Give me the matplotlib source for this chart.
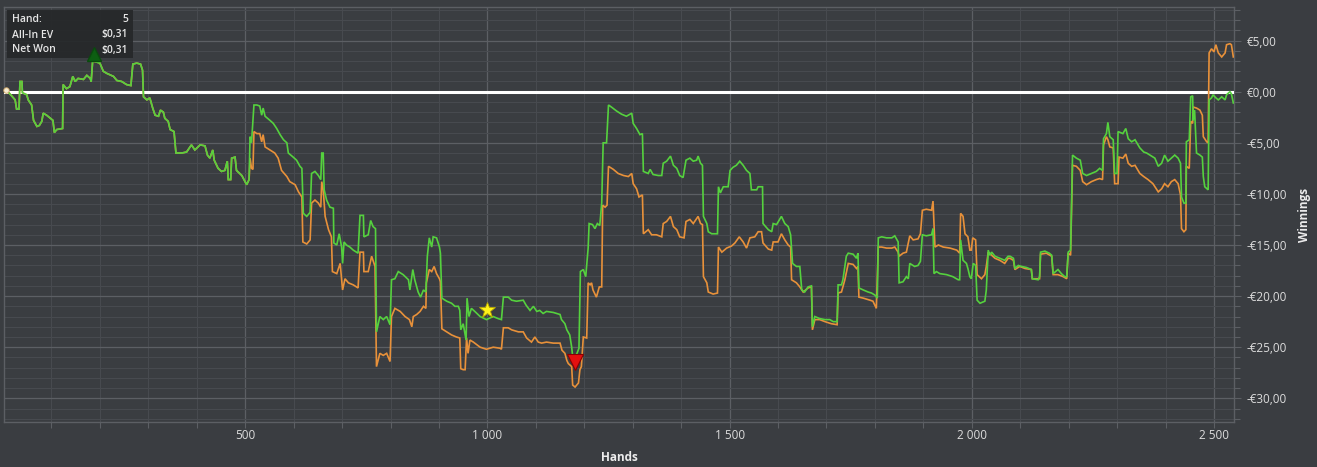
import matplotlib
matplotlib.use("Agg")
import matplotlib.pyplot as plt
from matplotlib.patches import Rectangle
from matplotlib.ticker import MultipleLocator, FuncFormatter

# ---------------- data (hands, € winnings) ----------------
# shared start: both series identical up to ~hand 508
early_hands = [6, 14, 25, 28, 33, 35, 39, 40, 49, 52, 59, 63, 70, 75, 80, 83, 90, 98, 103, 106,
               111, 123, 124, 131, 138, 144, 149, 155, 166, 173, 180, 182, 185, 193, 200, 207,
               214, 228, 235, 245, 255, 264, 268, 276, 284, 288, 290, 297, 303, 309, 314, 321,
               325, 331, 334, 341, 345, 353, 357, 369, 379, 389, 396, 407, 417, 422, 427, 433,
               436, 444, 451, 458, 463, 465, 470, 472, 479, 482, 493, 503, 508]
early_vals = [0.2, -0.2, -0.8, -1.7, -1.7, 1.0, 1.0, -0.1, -0.3, -0.8, -1.3, -2.8, -3.4, -3.3,
              -2.9, -2.1, -2.3, -2.6, -2.8, -4.0, -3.7, -3.6, 0.7, 0.3, 0.5, 1.5, 1.0, 1.3, 1.2,
              1.6, 1.3, 1.0, 3.0, 2.9, 2.8, 2.0, 1.8, 1.5, 1.1, 1.0, 0.7, 0.6, 2.7, 2.8, 2.7,
              2.1, -0.5, -0.8, -0.6, -1.6, -2.3, -2.4, -1.8, -2.0, -2.6, -2.9, -3.7, -3.9, -6.0,
              -6.0, -5.9, -5.2, -5.7, -5.2, -5.3, -6.2, -6.5, -5.7, -6.7, -7.5, -7.8, -7.7, -6.8,
              -8.6, -8.6, -6.5, -6.4, -7.7, -8.2, -9.1, -8.6]

# Net Won (green) after divergence
net_hands = [510, 513, 518, 524, 530, 534, 537, 541, 551, 558, 565, 572, 579, 586, 589, 599, 606,
             613, 617, 620, 627, 634, 637, 644, 651, 656, 658, 661, 663, 668, 675, 682, 683, 689,
             694, 699, 701, 704, 709, 716, 723, 733, 737, 744, 745, 754, 759, 764, 769, 771, 778,
             785, 792, 799, 802, 809, 816, 826, 837, 840, 846, 850, 857, 862, 868, 873, 876, 880,
             885, 888, 895, 901, 903, 906, 916, 926, 933, 940, 943, 945, 950, 956, 958, 962, 967,
             974, 985, 998, 1012, 1022, 1029, 1033, 1043, 1050, 1060, 1074, 1080, 1088, 1095,
             1102, 1108, 1115, 1122, 1136, 1150, 1153, 1160, 1164, 1170, 1174, 1176, 1181, 1185,
             1189, 1192, 1198, 1203, 1208, 1210, 1217, 1222, 1227, 1232, 1236, 1239, 1246, 1250,
             1256, 1267, 1277, 1287, 1298, 1301, 1308, 1315, 1320, 1322, 1332, 1336, 1342, 1353,
             1360, 1363, 1370, 1378, 1384, 1391, 1397, 1404, 1410, 1418, 1425, 1432, 1435, 1440,
             1444, 1446, 1453, 1456, 1463, 1475, 1477, 1481, 1487, 1497, 1501, 1507, 1514, 1521,
             1528, 1535, 1542, 1545, 1556, 1559, 1568, 1569, 1580, 1587, 1590, 1597, 1607, 1614,
             1621, 1626, 1630, 1638, 1645, 1649, 1655, 1662, 1669, 1671, 1676, 1686, 1697, 1707,
             1714, 1722, 1724, 1731, 1734, 1741, 1745, 1755, 1762, 1765, 1767, 1776, 1786, 1793,
             1800, 1805, 1807, 1814, 1824, 1835, 1841, 1848, 1850, 1858, 1865, 1869, 1872, 1882,
             1889, 1894, 1898, 1906, 1917, 1920, 1922, 1927, 1934, 1948, 1961, 1972, 1975, 1977,
             1982, 1989, 1992, 1996, 1999, 2003, 2008, 2011, 2017, 2027, 2030, 2034, 2037, 2041,
             2048, 2058, 2068, 2075, 2079, 2086, 2089, 2096, 2103, 2113, 2123, 2125, 2137, 2140,
             2142, 2151, 2160, 2165, 2168, 2178, 2185, 2192, 2196, 2199, 2204, 2208, 2216, 2224,
             2229, 2237, 2247, 2257, 2264, 2270, 2272, 2278, 2281, 2285, 2292, 2295, 2300, 2302,
             2312, 2318, 2323, 2330, 2337, 2347, 2355, 2361, 2371, 2378, 2385, 2392, 2398, 2405,
             2412, 2419, 2426, 2431, 2433, 2438, 2442, 2443, 2449, 2452, 2456, 2457, 2460, 2464,
             2471, 2476, 2478, 2481, 2488, 2490, 2495, 2498, 2504, 2509, 2516, 2523, 2526, 2533,
             2536, 2540]
net_vals = [-4.4, -5.0, -1.3, -1.3, -1.4, -2.3, -1.6, -2.4, -2.8, -3.1, -3.6, -4.2, -4.7, -5.0,
            -6.0, -6.4, -6.7, -7.3, -7.5, -11.9, -12.2, -11.8, -8.0, -7.8, -8.2, -8.6, -6.0, -6.0,
            -9.6, -10.6, -11.3, -11.4, -14.8, -15.0, -13.9, -15.2, -16.8, -14.7, -15.0, -15.2,
            -15.5, -15.8, -12.1, -12.1, -14.2, -14.0, -12.6, -13.2, -13.4, -23.5, -22.0, -22.3,
            -22.0, -22.8, -18.4, -18.3, -17.6, -17.9, -18.4, -19.4, -17.4, -18.4, -19.6, -20.1,
            -19.4, -19.6, -16.1, -14.3, -15.2, -14.2, -14.3, -15.2, -15.8, -20.2, -20.5, -20.7,
            -21.0, -21.0, -21.4, -23.3, -22.7, -24.3, -20.2, -22.0, -21.2, -21.5, -22.0, -22.3,
            -22.0, -22.2, -22.3, -20.1, -20.1, -20.4, -20.5, -20.4, -20.9, -21.4, -21.0, -21.5,
            -21.4, -21.7, -21.5, -21.6, -21.8, -22.3, -22.7, -23.3, -23.8, -25.0, -25.9, -25.9,
            -25.6, -25.1, -17.6, -17.4, -18.1, -15.3, -12.9, -13.0, -13.4, -12.9, -13.1, -10.9,
            -5.0, -5.0, -1.3, -1.5, -1.9, -2.2, -2.4, -2.1, -3.1, -3.6, -4.2, -4.1, -7.8, -8.0,
            -7.6, -8.1, -8.2, -8.2, -7.0, -6.8, -6.3, -7.2, -7.5, -8.2, -8.4, -6.7, -6.5, -6.8,
            -6.7, -6.3, -7.0, -7.2, -12.2, -12.9, -13.7, -13.9, -13.9, -9.3, -9.9, -9.3, -9.3,
            -7.7, -7.4, -7.2, -6.8, -7.2, -7.7, -8.0, -9.6, -9.6, -9.3, -9.3, -12.9, -13.5, -13.7,
            -12.9, -13.0, -12.2, -12.9, -13.2, -14.0, -16.8, -17.1, -17.1, -19.4, -19.6, -19.1,
            -19.0, -23.0, -22.0, -22.2, -22.3, -22.3, -22.5, -22.5, -18.9, -18.9, -18.4, -16.1,
            -15.8, -15.9, -16.3, -15.8, -19.2, -19.4, -19.6, -19.7, -19.9, -20.2, -14.3, -14.2,
            -14.3, -14.3, -14.1, -14.7, -18.7, -18.6, -18.1, -18.3, -16.8, -17.1, -17.0, -16.6,
            -14.0, -14.1, -14.0, -13.4, -17.8, -17.6, -17.8, -17.9, -18.1, -18.4, -18.4, -14.5,
            -16.5, -16.8, -17.3, -18.1, -18.3, -16.8, -17.0, -20.4, -20.7, -20.5, -19.4, -15.5,
            -16.0, -15.7, -16.1, -16.3, -16.5, -16.1, -16.1, -16.3, -17.3, -17.0, -17.1, -17.2,
            -17.4, -18.3, -18.4, -18.1, -15.7, -15.6, -15.8, -16.0, -17.8, -17.4, -17.8, -18.1,
            -18.1, -15.7, -15.5, -6.2, -6.5, -6.7, -8.0, -8.2, -8.0, -7.8, -7.5, -7.7, -4.6, -4.1,
            -3.0, -4.4, -4.7, -8.0, -8.0, -3.9, -4.1, -3.6, -4.6, -4.9, -4.7, -5.5, -5.9, -6.0,
            -6.3, -6.5, -7.3, -7.0, -6.2, -6.8, -6.5, -6.2, -6.5, -7.0, -10.3, -10.9, -10.9, -4.9,
            -4.7, -0.5, -0.4, -2.8, -1.8, -6.0, -6.2, -6.4, -8.3, -9.3, -9.6, -0.8, -0.6, -0.3,
            -0.6, -0.8, -0.5, -0.8, -0.3, 0.0, -0.2, -1.1]

# All-In EV (orange) after divergence
ev_hands = [510, 513, 516, 518, 524, 530, 534, 537, 541, 551, 561, 568, 575, 586, 592, 603, 610,
            617, 619, 627, 634, 637, 644, 651, 656, 658, 661, 665, 672, 678, 680, 689, 696, 701,
            706, 713, 723, 733, 737, 744, 745, 754, 761, 768, 771, 778, 785, 792, 799, 802, 809,
            820, 830, 839, 844, 847, 854, 861, 868, 873, 874, 880, 885, 890, 895, 901, 903, 906,
            916, 926, 936, 943, 945, 950, 954, 957, 960, 964, 971, 985, 998, 1012, 1026, 1029,
            1033, 1043, 1050, 1064, 1074, 1081, 1091, 1098, 1105, 1112, 1122, 1136, 1150, 1154,
            1160, 1164, 1167, 1174, 1176, 1181, 1188, 1191, 1194, 1198, 1205, 1208, 1212, 1215,
            1218, 1225, 1231, 1236, 1238, 1243, 1247, 1250, 1260, 1270, 1281, 1291, 1298, 1301,
            1308, 1313, 1320, 1322, 1332, 1339, 1349, 1360, 1363, 1370, 1378, 1384, 1391, 1397,
            1406, 1410, 1418, 1425, 1435, 1440, 1444, 1446, 1453, 1456, 1466, 1475, 1477, 1484,
            1494, 1504, 1511, 1520, 1528, 1535, 1542, 1552, 1559, 1566, 1569, 1580, 1587, 1590,
            1600, 1607, 1614, 1621, 1626, 1628, 1638, 1645, 1652, 1662, 1669, 1671, 1676, 1686,
            1697, 1710, 1722, 1724, 1731, 1738, 1745, 1755, 1762, 1765, 1767, 1776, 1790, 1796,
            1803, 1807, 1814, 1824, 1835, 1841, 1848, 1850, 1858, 1865, 1872, 1879, 1889, 1894,
            1898, 1906, 1917, 1920, 1924, 1931, 1941, 1955, 1969, 1975, 1977, 1982, 1986, 1992,
            1996, 1999, 2002, 2008, 2011, 2020, 2027, 2030, 2034, 2041, 2048, 2058, 2068, 2075,
            2079, 2086, 2089, 2099, 2110, 2123, 2125, 2140, 2142, 2154, 2165, 2168, 2178, 2189,
            2196, 2199, 2204, 2208, 2216, 2224, 2229, 2237, 2247, 2257, 2264, 2270, 2272, 2278,
            2281, 2285, 2292, 2295, 2302, 2304, 2312, 2318, 2323, 2330, 2337, 2347, 2355, 2364,
            2374, 2385, 2392, 2398, 2405, 2412, 2419, 2426, 2431, 2433, 2438, 2442, 2443, 2449,
            2452, 2456, 2457, 2464, 2471, 2476, 2478, 2485, 2488, 2490, 2495, 2500, 2504, 2509,
            2516, 2523, 2526, 2533, 2536, 2540]
ev_vals = [-6.5, -7.5, -7.6, -3.9, -4.1, -4.1, -4.9, -4.2, -5.4, -5.7, -6.0, -6.5, -7.7, -8.3,
           -8.8, -9.1, -9.8, -10.3, -14.7, -14.9, -14.5, -10.9, -10.6, -10.9, -11.3, -8.8, -9.6,
           -12.2, -13.5, -14.2, -17.6, -17.8, -16.8, -19.4, -18.3, -18.7, -18.9, -19.2, -15.7,
           -15.7, -17.6, -17.6, -16.1, -17.1, -26.9, -25.6, -25.8, -25.6, -26.4, -22.0, -21.2,
           -21.5, -22.0, -22.3, -23.0, -22.0, -21.8, -21.5, -21.0, -21.2, -18.7, -17.4, -17.6,
           -17.1, -17.8, -18.3, -18.6, -23.2, -23.5, -23.8, -24.0, -24.1, -27.1, -27.2, -27.2,
           -24.1, -25.6, -24.3, -24.5, -25.0, -25.2, -25.0, -25.1, -25.2, -23.1, -23.1, -23.3,
           -23.5, -23.5, -24.1, -24.5, -24.0, -24.5, -24.6, -24.5, -24.6, -24.6, -25.3, -25.6,
           -26.3, -26.6, -26.9, -28.7, -28.9, -28.5, -27.2, -26.9, -24.0, -24.1, -18.7, -18.9,
           -18.7, -19.4, -20.1, -19.1, -19.1, -11.1, -11.3, -11.1, -7.3, -7.6, -8.0, -8.2, -8.3,
           -8.0, -9.0, -9.5, -10.3, -10.1, -13.9, -13.5, -14.0, -14.0, -14.2, -12.9, -12.7, -12.2,
           -13.2, -13.5, -14.2, -14.3, -12.7, -12.5, -12.9, -12.2, -12.9, -13.0, -18.1, -18.7,
           -19.6, -19.8, -19.7, -15.2, -15.7, -15.3, -15.1, -14.8, -14.2, -14.7, -15.3, -14.3,
           -14.2, -13.7, -13.7, -14.8, -15.4, -15.5, -14.7, -14.7, -13.9, -14.5, -15.0, -15.2,
           -18.4, -18.7, -19.1, -19.6, -19.2, -19.1, -23.3, -22.3, -22.3, -22.5, -22.7, -22.8,
           -19.7, -19.6, -18.4, -16.8, -16.9, -17.3, -17.1, -20.1, -20.2, -20.4, -20.5, -21.2,
           -15.2, -15.2, -15.3, -15.3, -15.2, -15.7, -16.1, -15.8, -15.7, -14.1, -14.5, -14.4,
           -13.9, -11.6, -11.5, -11.6, -10.7, -15.2, -15.0, -15.2, -15.3, -15.5, -15.8, -11.9,
           -12.2, -13.9, -14.2, -15.5, -15.5, -14.3, -14.5, -17.9, -18.3, -17.9, -17.1, -15.7,
           -16.0, -16.3, -16.5, -16.8, -16.3, -16.3, -16.5, -17.4, -17.1, -17.3, -17.4, -18.3,
           -18.3, -15.9, -15.8, -16.1, -17.9, -17.9, -18.1, -18.3, -15.8, -16.0, -7.2, -7.3, -7.7,
           -8.8, -9.1, -8.8, -8.6, -8.5, -8.6, -5.2, -4.4, -4.7, -5.4, -5.5, -9.0, -9.0, -6.4,
           -6.5, -6.1, -7.0, -7.3, -7.2, -8.0, -8.3, -8.6, -9.0, -9.8, -9.5, -9.0, -9.3, -8.8,
           -8.6, -9.0, -10.1, -13.4, -13.7, -13.5, -7.3, -7.5, -2.9, -3.1, -1.5, -1.6, -1.8, -2.3,
           -4.4, -4.9, -5.0, 3.8, 4.2, 3.9, 4.6, 3.8, 3.4, 3.8, 4.6, 4.7, 4.6, 3.4]

# markers: (hand, value)
max_marker = (188, 3.7)
star_marker = (1000, -21.4)
min_marker = (1181, -26.4)
start_marker = (6, 0.2)

# tooltip content
tooltip_rows = [("Hand:", "5"), ("All-In EV", "$0,31"), ("Net Won", "$0,31")]

# ---------------- style ----------------
BG = "#3a3d41"
MAJOR = "#5c5f64"
MINOR = "#474a4f"
TEXT = "#dcdcdc"
GREEN = "#55d13e"
ORANGE = "#e8913a"
FONT = ["Open Sans", "DejaVu Sans"]
plt.rcParams["font.family"] = FONT

W, H = 1317, 467
fig = plt.figure(figsize=(W / 100, H / 100), dpi=100, facecolor=BG)
ax = fig.add_axes([4 / W, 1 - 421.7 / H, (1234.3 - 4) / W, (421.7 - 7.3) / H], facecolor=BG)

ax.set_xlim(2, 2542)
ax.set_ylim(-32.29, 8.26)

ax.xaxis.set_major_locator(MultipleLocator(500))
ax.xaxis.set_minor_locator(MultipleLocator(100))
ax.yaxis.set_major_locator(MultipleLocator(5))
ax.yaxis.set_minor_locator(MultipleLocator(1))
ax.grid(which="major", color=MAJOR, lw=0.9, zorder=0)
ax.grid(which="minor", color=MINOR, lw=0.8, zorder=0)
ax.set_axisbelow(True)

def xfmt(v, pos):
    v = int(round(v))
    if v <= 0:
        return ""
    return f"{v:,}".replace(",", " ")

def yfmt(v, pos):
    s = f"€{abs(v):.2f}".replace(".", ",")
    return ("-" + s) if v < -1e-9 else s

ax.xaxis.set_major_formatter(FuncFormatter(xfmt))
ax.yaxis.set_major_formatter(FuncFormatter(yfmt))
ax.yaxis.tick_right()
ax.yaxis.set_label_position("right")

ax.tick_params(axis="x", which="both", colors=MAJOR, labelcolor=TEXT, labelsize=8.5,
               length=4, width=0.8, pad=1)
ax.tick_params(axis="y", which="major", colors=MAJOR, labelcolor=TEXT, labelsize=8.5,
               length=5, width=0.8, pad=4)
ax.tick_params(axis="y", which="minor", colors=MAJOR, length=4, width=0.8)

for sp in ax.spines.values():
    sp.set_color(MAJOR)
    sp.set_linewidth(1.0)

ax.set_xlabel("Hands", color="#ececec", fontsize=8.5, fontweight="bold", labelpad=7)
ax.set_ylabel("Winnings", color="#ececec", fontsize=8.5, fontweight="bold", labelpad=8)

# zero line
ax.axhline(0, color="white", lw=2.2, zorder=3)

# series
ax.plot(early_hands + ev_hands, early_vals + ev_vals, color=ORANGE, lw=1.2, zorder=4,
        solid_joinstyle="miter")
ax.plot(early_hands + net_hands, early_vals + net_vals, color=GREEN, lw=1.2, zorder=5,
        solid_joinstyle="miter")

# tooltip (drawn inside the axes so the max marker can sit on top of it)
ax.add_patch(Rectangle((7 / W, 1 - 58 / H), 126 / W, 48 / H, transform=fig.transFigure,
                       facecolor="#26282a", edgecolor="none", alpha=0.93, zorder=6,
                       clip_on=False))
row_y = [19, 35, 50]
for (lab, val), yy in zip(tooltip_rows, row_y):
    ax.text(12 / W, 1 - yy / H, lab, transform=fig.transFigure, color="#e6e6e6", fontsize=7.5,
            fontweight="semibold", va="center", ha="left", zorder=6.5)
    ax.text(128 / W, 1 - yy / H, val, transform=fig.transFigure, color="#e6e6e6", fontsize=7.5,
            fontweight="semibold", va="center", ha="right", zorder=6.5)

# markers
ax.plot(*max_marker, marker="^", ms=10, color="#0d5e12", mec="#0a4a0e", zorder=7, clip_on=False)
ax.plot(*star_marker, marker="*", ms=12, color="#fff21a", mec="#b8a800", mew=0.6, zorder=7)
ax.plot(*min_marker, marker="v", ms=11, color="#e4100f", mec="#8a0000", mew=0.8, zorder=7)
ax.plot(*start_marker, marker="o", ms=4, color="#f6ecd2", mec="#c8a060", mew=0.6, zorder=7,
        clip_on=False)

fig.savefig("out.png", dpi=100, facecolor=BG)
